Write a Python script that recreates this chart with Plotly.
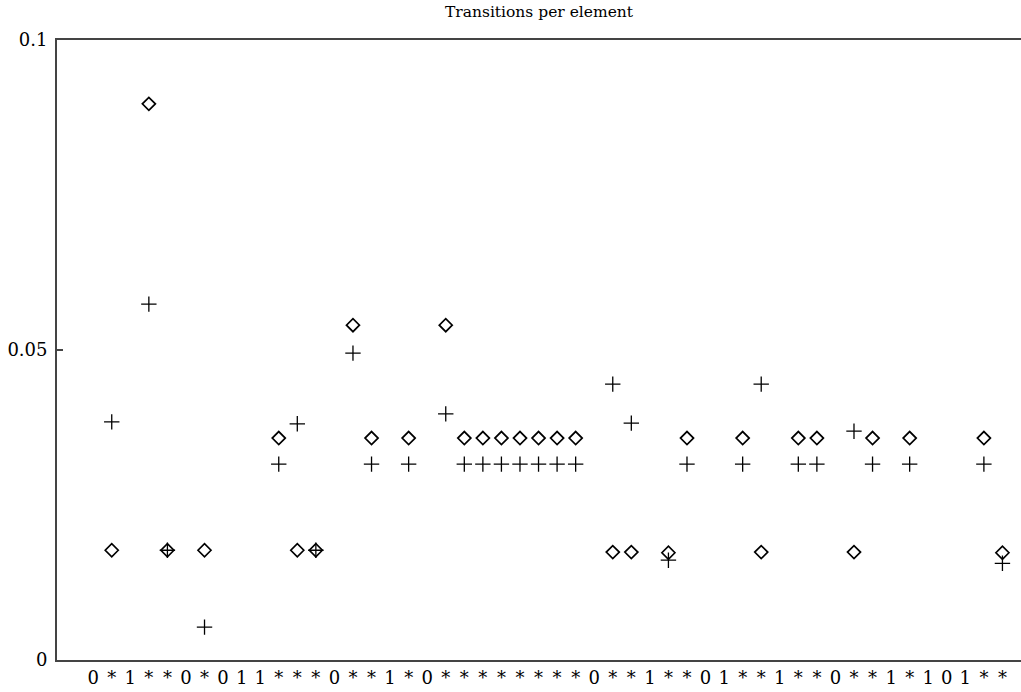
import plotly.graph_objects as go

tick_labels = ["0", "*", "1", "*", "*", "0", "*", "0", "1", "1",
               "*", "*", "*", "0", "*", "*", "1", "*", "0", "*",
               "*", "*", "*", "*", "*", "*", "*", "0", "*", "*",
               "1", "*", "*", "0", "1", "*", "*", "1", "*", "*",
               "0", "*", "*", "1", "*", "1", "0", "1", "*", "*"]

point_idx = [1, 3, 4, 6, 10, 11, 12, 14, 15, 17, 19, 20, 21, 22, 23, 24, 25, 26,
             28, 29, 31, 32, 35, 36, 38, 39, 41, 42, 44, 48, 49]
diamond_vals = [0.0177, 0.0897, 0.0177, 0.0177, 0.0358, 0.0177, 0.0177, 0.0540, 0.0358, 0.0358,
                0.0540, 0.0358, 0.0358, 0.0358, 0.0358, 0.0358, 0.0358, 0.0358,
                0.0174, 0.0174, 0.0173, 0.0358, 0.0358, 0.0174, 0.0358, 0.0358,
                0.0174, 0.0358, 0.0358, 0.0358, 0.0173]
cross_vals = [0.0384, 0.0574, 0.0177, 0.0053, 0.0316, 0.0381, 0.0177, 0.0495, 0.0316, 0.0316,
              0.0397, 0.0316, 0.0316, 0.0316, 0.0316, 0.0316, 0.0316, 0.0316,
              0.0445, 0.0382, 0.0161, 0.0316, 0.0316, 0.0445, 0.0316, 0.0316,
              0.0369, 0.0316, 0.0316, 0.0316, 0.0156]

font_family = "DejaVu Serif"

fig = go.Figure()
fig.add_trace(go.Scatter(
    x=point_idx, y=diamond_vals, mode="markers", name="diamond",
    marker=dict(symbol="diamond-open", size=10, color="black",
                line=dict(width=1.7, color="black")),
))
fig.add_trace(go.Scatter(
    x=point_idx, y=cross_vals, mode="markers", name="cross",
    marker=dict(symbol="cross-thin", size=11, color="black",
                line=dict(width=1.3, color="black")),
))

fig.update_layout(
    width=1021, height=692,
    margin=dict(l=57, r=0, t=40, b=32),
    paper_bgcolor="white", plot_bgcolor="white",
    showlegend=False,
    font=dict(family=font_family, color="black"),
    title=dict(text="Transitions per element", xref="paper", x=0.5, xanchor="center",
               yref="container", y=1 - 12 / 692, yanchor="middle",
               font=dict(family=font_family, size=15.5, color="black")),
    xaxis=dict(
        range=[-1.95, 50.0],
        tickmode="array", tickvals=list(range(len(tick_labels))), ticktext=tick_labels,
        ticks="", showgrid=False, zeroline=False,
        showline=True, linecolor="#444", linewidth=1.8, mirror=True,
        tickfont=dict(family=font_family, size=18, color="black"),
        tickangle=0,
    ),
    yaxis=dict(
        range=[0, 0.1],
        tickmode="array", tickvals=[0, 0.05, 0.1], ticktext=["0", "0.05", "0.1"],
        ticks="inside", ticklen=6, tickcolor="#444", tickwidth=1.5,
        showgrid=False, zeroline=False,
        showline=True, linecolor="#444", linewidth=1.8,
        tickfont=dict(family=font_family, size=18, color="black"),
        ticklabelstandoff=4,
    ),
)

fig.write_html("out.html")
